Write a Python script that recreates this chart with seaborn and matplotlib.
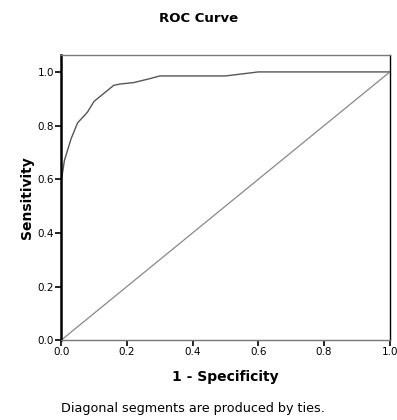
import numpy as np
import matplotlib
matplotlib.use("Agg")
import matplotlib.pyplot as plt
import seaborn as sns
import pandas as pd

# ROC curve values
fpr = [0.0, 0.0, 0.01, 0.03, 0.05, 0.08, 0.10, 0.13, 0.16, 0.18, 0.22, 0.27, 0.30, 0.50, 0.60, 1.0]
tpr = [0.0, 0.59, 0.67, 0.75, 0.81, 0.85, 0.89, 0.92, 0.95, 0.955, 0.96, 0.975, 0.985, 0.985, 1.0, 1.0]
diag = [0.0, 1.0]
ticks = [0.0, 0.2, 0.4, 0.6, 0.8, 1.0]

sns.set_style("white")
plt.rcParams['font.family'] = ['DejaVu Sans']
plt.rcParams['text.color'] = 'black'
plt.rcParams['axes.labelcolor'] = 'black'
plt.rcParams['xtick.color'] = 'black'
plt.rcParams['ytick.color'] = 'black'

fig = plt.figure(figsize=(3.97, 4.2), dpi=100)
ax = fig.add_axes([0.154, 0.19, 0.828, 0.679])

roc = pd.DataFrame({"fpr": fpr, "tpr": tpr})
sns.lineplot(data=roc, x="fpr", y="tpr", sort=False, estimator=None,
             color="#555555", lw=1.0, ax=ax)
sns.lineplot(x=diag, y=diag, color="#888888", lw=0.9, ax=ax)

ax.set_xlim(0, 1.0)
ax.set_ylim(0, 1.063)
ax.set_xticks(ticks)
ax.set_yticks(ticks)
ax.set_xticklabels([f"{t:.1f}" for t in ticks], fontsize=7.5)
ax.set_yticklabels([f"{t:.1f}" for t in ticks], fontsize=7.5)
ax.tick_params(bottom=True, left=True, direction="out", length=4, width=1.2,
               color="black", labelcolor="black", pad=1)

for side in ["top", "bottom"]:
    ax.spines[side].set_color("#777777")
    ax.spines[side].set_linewidth(1.0)
ax.spines["right"].set_color("black")
ax.spines["right"].set_linewidth(1.0)
ax.spines["left"].set_color("black")
ax.spines["left"].set_linewidth(1.8)

ax.set_xlabel("1 - Specificity", fontsize=10, fontweight="bold", labelpad=9, color="black")
ax.set_ylabel("Sensitivity", fontsize=10, fontweight="bold", labelpad=3, color="black")
fig.text(0.5, 0.955, "ROC Curve", ha="center", va="center", fontsize=9.5,
         fontweight="bold", color="black")
fig.text(0.486, 0.028, "Diagonal segments are produced by ties.", ha="center",
         va="center", fontsize=9.2, color="black")

fig.savefig("out.png", dpi=100)
